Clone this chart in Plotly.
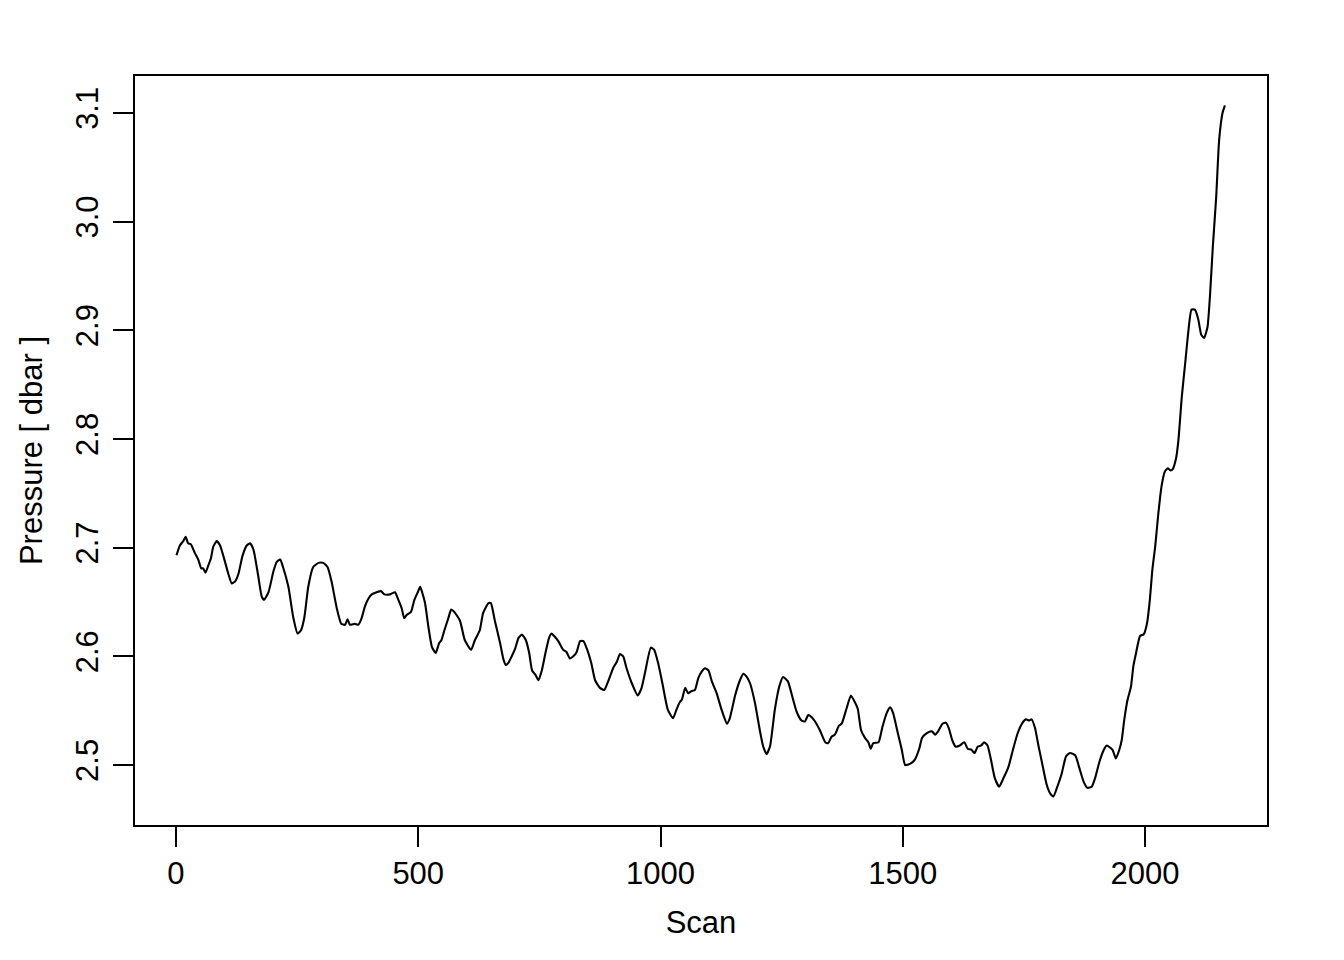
import plotly.graph_objects as go

# scan index and pressure (dbar)
scan = [
    1, 8, 15, 20, 25, 31, 39, 46, 52, 56, 61, 67, 72, 77, 84, 91, 98, 108, 115, 122,
    129, 137, 146, 153, 160, 169, 177, 182, 191, 201, 208, 215, 221, 232, 242, 251, 258, 265, 273, 283,
    294, 304, 313, 321, 332, 341, 349, 354, 359, 369, 376, 383, 390, 397, 404, 414, 423, 430, 442, 452,
    459, 466, 471, 476, 485, 492, 499, 504, 508, 514, 521, 528, 536, 543, 548, 554, 562, 568, 574, 586,
    596, 609, 617, 627, 634, 645, 650, 658, 669, 676, 681, 686, 693, 700, 707, 714, 722, 729, 735, 742,
    748, 755, 763, 770, 775, 782, 789, 799, 806, 813, 820, 827, 834, 841, 848, 857, 865, 875, 884, 892,
    903, 910, 916, 923, 930, 941, 953, 961, 969, 980, 987, 995, 1004, 1015, 1026, 1033, 1040, 1044, 1051, 1057,
    1064, 1071, 1078, 1085, 1092, 1099, 1106, 1116, 1126, 1137, 1143, 1154, 1164, 1171, 1178, 1185, 1195, 1205, 1212, 1219,
    1226, 1236, 1245, 1253, 1263, 1272, 1281, 1291, 1298, 1305, 1312, 1319, 1329, 1340, 1346, 1353, 1360, 1368, 1374, 1384,
    1393, 1401, 1407, 1414, 1422, 1429, 1434, 1439, 1450, 1458, 1467, 1474, 1480, 1490, 1498, 1505, 1515, 1525, 1534, 1540,
    1549, 1560, 1567, 1573, 1582, 1589, 1595, 1602, 1609, 1618, 1627, 1634, 1642, 1648, 1655, 1662, 1668, 1675, 1682, 1690,
    1699, 1708, 1718, 1728, 1737, 1746, 1754, 1761, 1766, 1773, 1780, 1787, 1797, 1804, 1811, 1819, 1828, 1837, 1845, 1856,
    1864, 1873, 1881, 1890, 1897, 1906, 1915, 1921, 1928, 1933, 1940, 1947, 1952, 1957, 1964, 1971, 1976, 1981, 1990, 1997,
    2004, 2010, 2015, 2021, 2027, 2034, 2041, 2047, 2053, 2057, 2064, 2069, 2076, 2083, 2089, 2096, 2103, 2110, 2116, 2122,
    2129, 2134, 2140, 2147, 2153, 2160, 2165,
]
pressure = [
    2.693, 2.702, 2.706, 2.710, 2.704, 2.703, 2.695, 2.689, 2.681, 2.681, 2.677, 2.684, 2.690, 2.701, 2.706, 2.702, 2.692, 2.676, 2.667, 2.669,
    2.676, 2.692, 2.702, 2.704, 2.698, 2.676, 2.655, 2.652, 2.659, 2.678, 2.687, 2.689, 2.682, 2.664, 2.636, 2.621, 2.624, 2.636, 2.664, 2.682,
    2.686, 2.686, 2.682, 2.669, 2.644, 2.630, 2.629, 2.634, 2.629, 2.630, 2.629, 2.635, 2.646, 2.653, 2.657, 2.659, 2.660, 2.657, 2.657, 2.659,
    2.652, 2.644, 2.635, 2.638, 2.641, 2.652, 2.659, 2.664, 2.659, 2.649, 2.627, 2.609, 2.603, 2.612, 2.615, 2.624, 2.635, 2.643, 2.641, 2.633,
    2.615, 2.606, 2.615, 2.624, 2.640, 2.649, 2.649, 2.633, 2.612, 2.597, 2.592, 2.594, 2.600, 2.607, 2.617, 2.620, 2.615, 2.603, 2.587, 2.583,
    2.578, 2.587, 2.604, 2.617, 2.621, 2.618, 2.614, 2.606, 2.604, 2.598, 2.600, 2.604, 2.614, 2.614, 2.607, 2.594, 2.578, 2.571, 2.569, 2.577,
    2.590, 2.595, 2.602, 2.600, 2.589, 2.575, 2.564, 2.571, 2.587, 2.608, 2.606, 2.594, 2.575, 2.551, 2.543, 2.551, 2.558, 2.560, 2.571, 2.566,
    2.568, 2.569, 2.580, 2.586, 2.589, 2.587, 2.577, 2.566, 2.551, 2.538, 2.543, 2.564, 2.578, 2.584, 2.581, 2.575, 2.557, 2.532, 2.517, 2.510,
    2.517, 2.551, 2.572, 2.581, 2.577, 2.563, 2.549, 2.541, 2.540, 2.546, 2.544, 2.540, 2.532, 2.521, 2.520, 2.526, 2.528, 2.536, 2.538, 2.552,
    2.564, 2.558, 2.552, 2.532, 2.525, 2.521, 2.515, 2.520, 2.521, 2.535, 2.548, 2.553, 2.548, 2.529, 2.514, 2.500, 2.501, 2.505, 2.515, 2.525,
    2.529, 2.531, 2.528, 2.531, 2.538, 2.539, 2.534, 2.523, 2.517, 2.518, 2.521, 2.515, 2.514, 2.511, 2.517, 2.518, 2.521, 2.518, 2.505, 2.488,
    2.480, 2.488, 2.498, 2.515, 2.529, 2.538, 2.542, 2.541, 2.542, 2.534, 2.518, 2.503, 2.482, 2.474, 2.471, 2.480, 2.492, 2.508, 2.511, 2.509,
    2.498, 2.485, 2.479, 2.480, 2.488, 2.503, 2.514, 2.518, 2.516, 2.514, 2.506, 2.514, 2.523, 2.541, 2.560, 2.572, 2.591, 2.602, 2.619, 2.620,
    2.630, 2.652, 2.679, 2.701, 2.729, 2.756, 2.770, 2.773, 2.771, 2.772, 2.782, 2.799, 2.839, 2.870, 2.897, 2.919, 2.919, 2.910, 2.896, 2.893,
    2.903, 2.931, 2.977, 3.023, 3.075, 3.100, 3.107,
]

x_ticks = [0, 500, 1000, 1500, 2000]
y_ticks = [2.5, 2.6, 2.7, 2.8, 2.9, 3.0, 3.1]

FONT = "Liberation Sans, Arial, Helvetica, sans-serif"

fig = go.Figure(go.Scatter(
    x=scan,
    y=pressure,
    mode="lines",
    line=dict(color="black", width=2.1, shape="spline", smoothing=0.5),
    hoverinfo="skip",
))

axis_style = dict(
    showgrid=False,
    zeroline=False,
    showline=True,
    mirror=True,
    linecolor="black",
    linewidth=1.5,
    ticks="outside",
    ticklen=20,
    tickwidth=1.5,
    tickcolor="black",
    tickfont=dict(size=31, color="black"),
)

fig.update_xaxes(
    range=[-84.6, 2251.8],
    tickvals=x_ticks,
    title=dict(text="Scan", font=dict(size=31, color="black"), standoff=21),
    **axis_style,
)
fig.update_yaxes(
    range=[2.4448, 3.134],
    tickvals=y_ticks,
    tickformat=".1f",
    tickangle=-90,
    ticklabelstandoff=3,
    title=dict(text="Pressure [ dbar ]", font=dict(size=31, color="black"), standoff=18),
    **axis_style,
)

# the page body adds an 8px offset, so the margins are shifted to compensate
fig.update_layout(
    width=1344,
    height=960,
    margin=dict(l=127, r=85, t=68, b=143),
    plot_bgcolor="white",
    paper_bgcolor="white",
    font=dict(family=FONT, color="black"),
    showlegend=False,
)

fig.write_html("out.html")
